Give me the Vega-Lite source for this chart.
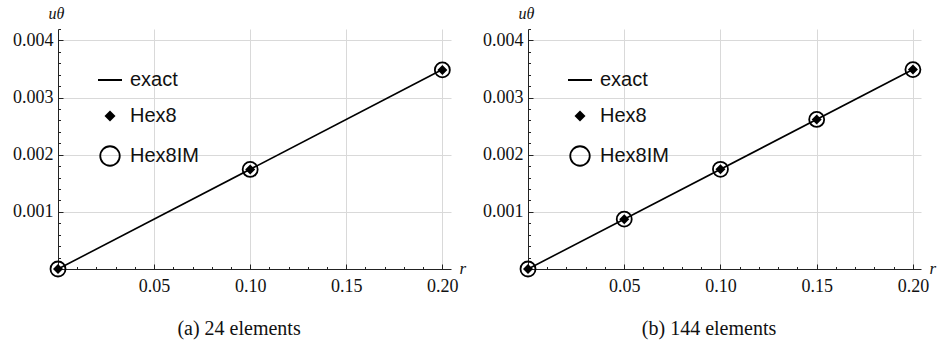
{
  "$schema": "https://vega.github.io/schema/vega-lite/v6.json",
  "background": "white",
  "padding": {"left": 12, "top": 5, "right": 5, "bottom": 5},
  "spacing": 16,
  "datasets": {
    "a": [
      {"r": 0, "u": 0, "series": "exact"},
      {"r": 0.2, "u": 0.00349, "series": "exact"},
      {"r": 0, "u": 0, "series": "Hex8"},
      {"r": 0.1, "u": 0.001742, "series": "Hex8"},
      {"r": 0.2, "u": 0.003484, "series": "Hex8"},
      {"r": 0, "u": 0, "series": "Hex8IM"},
      {"r": 0.1, "u": 0.001742, "series": "Hex8IM"},
      {"r": 0.2, "u": 0.003484, "series": "Hex8IM"}
    ],
    "b": [
      {"r": 0, "u": 0, "series": "exact"},
      {"r": 0.2, "u": 0.00349, "series": "exact"},
      {"r": 0, "u": 0, "series": "Hex8"},
      {"r": 0.05, "u": 0.000872, "series": "Hex8"},
      {"r": 0.1, "u": 0.001745, "series": "Hex8"},
      {"r": 0.15, "u": 0.002617, "series": "Hex8"},
      {"r": 0.2, "u": 0.00349, "series": "Hex8"},
      {"r": 0, "u": 0, "series": "Hex8IM"},
      {"r": 0.05, "u": 0.000872, "series": "Hex8IM"},
      {"r": 0.1, "u": 0.001745, "series": "Hex8IM"},
      {"r": 0.15, "u": 0.002617, "series": "Hex8IM"},
      {"r": 0.2, "u": 0.00349, "series": "Hex8IM"}
    ]
  },
  "config": {
    "view": {"stroke": null},
    "title": {"font": "Liberation Serif", "fontSize": 20, "fontWeight": "normal", "color": "#111", "orient": "bottom", "offset": 24, "frame": "bounds"},
    "legend": {
      "orient": "none",
      "legendX": 39,
      "legendY": 38,
      "labelFont": "Liberation Sans",
      "labelFontSize": 20,
      "labelColor": "#111",
      "labelOffset": 7,
      "rowPadding": 16,
      "padding": 0,
      "title": null
    }
  },
  "hconcat": [
    {
      "title": "(a) 24 elements",
      "width": 393,
      "height": 240,
      "data": {"name": "a"},
      "resolve": {"axis": {"x": "independent", "y": "independent"}},
      "layer": [
        {
          "transform": [{"filter": "datum.series === 'exact'"}],
          "mark": {"type": "line", "color": "black", "strokeWidth": 1.6},
          "encoding": {
            "x": {"field": "r", "type": "quantitative", "scale": {"domain": [0, 0.2045], "nice": false, "zero": false},
              "axis": {"orient": "bottom", "values": [0.05, 0.1, 0.15, 0.2], "format": ".2f", "tickSize": -5, "tickColor": "#222", "domainColor": "#222", "gridColor": "#d9d9d9", "labelPadding": 13, "labelFont": "Liberation Serif", "labelFontSize": 18, "labelColor": "#111",
                "title": "r", "titleFont": "Liberation Serif", "titleFontStyle": "italic", "titleFontWeight": "normal", "titleFontSize": 17, "titleColor": "#111", "titleX": 401, "titleY": 4, "titleAlign": "left", "titleBaseline": "alphabetic", "titleAngle": 0}},
            "y": {"field": "u", "type": "quantitative", "scale": {"domain": [0, 0.0042], "nice": false, "zero": false},
              "axis": {"orient": "left", "values": [0.001, 0.002, 0.003, 0.004], "format": ".3f", "tickSize": -5, "tickColor": "#222", "domainColor": "#222", "gridColor": "#d9d9d9", "labelPadding": 10, "labelFont": "Liberation Serif", "labelFontSize": 18, "labelColor": "#111",
                "title": "uθ", "titleFont": "Liberation Serif", "titleFontStyle": "italic", "titleFontWeight": "normal", "titleFontSize": 16, "titleColor": "#111", "titleAngle": 0, "titleX": -2, "titleY": -11, "titleAlign": "center", "titleBaseline": "alphabetic"}}
          }
        },
        {
          "transform": [{"filter": "datum.series === 'exact'"}],
          "mark": {"type": "point", "opacity": 0},
          "encoding": {
            "x": {"field": "r", "type": "quantitative", "axis": {"orient": "bottom", "values": [0.01,0.02,0.03,0.04,0.06,0.07,0.08,0.09,0.11,0.12,0.13,0.14,0.16,0.17,0.18,0.19], "labels": false, "grid": false, "domain": false, "tickSize": -2.5, "tickColor": "#222", "title": null}},
            "y": {"field": "u", "type": "quantitative", "axis": {"orient": "left", "values": [0.0002,0.0004,0.0006,0.0008,0.0012,0.0014,0.0016,0.0018,0.0022,0.0024,0.0026,0.0028,0.0032,0.0034,0.0036,0.0038,0.0042], "labels": false, "grid": false, "domain": false, "tickSize": -2.5, "tickColor": "#222", "title": null}}
          }
        },
        {
          "transform": [{"filter": "datum.series === 'Hex8IM'"}],
          "mark": {"type": "point", "shape": "circle", "filled": false, "color": "black", "strokeWidth": 1.8, "size": 225, "opacity": 1},
          "encoding": {
            "x": {"field": "r", "type": "quantitative", "axis": null},
            "y": {"field": "u", "type": "quantitative", "axis": null}
          }
        },
        {
          "transform": [{"filter": "datum.series === 'Hex8'"}],
          "mark": {"type": "point", "shape": "diamond", "filled": true, "color": "black", "size": 100, "opacity": 1},
          "encoding": {
            "x": {"field": "r", "type": "quantitative", "axis": null},
            "y": {"field": "u", "type": "quantitative", "axis": null}
          }
        },
        {
          "transform": [{"filter": "false"}],
          "mark": {"type": "point", "color": "black", "stroke": "black", "opacity": 1},
          "encoding": {
            "x": {"field": "r", "type": "quantitative", "axis": null},
            "y": {"field": "u", "type": "quantitative", "axis": null},
            "shape": {"field": "series", "type": "nominal", "scale": {"domain": ["exact", "Hex8", "Hex8IM"], "range": ["stroke", "diamond", "circle"]}},
            "size": {"field": "series", "type": "nominal", "scale": {"type": "ordinal", "domain": ["exact", "Hex8", "Hex8IM"], "range": [576, 121, 380]}},
            "fill": {"field": "series", "type": "nominal", "scale": {"domain": ["exact", "Hex8", "Hex8IM"], "range": ["transparent", "black", "transparent"]}},
            "strokeWidth": {"field": "series", "type": "nominal", "scale": {"type": "ordinal", "domain": ["exact", "Hex8", "Hex8IM"], "range": [2, 0, 1.8]}}
          }
        }
      ]
    },
    {
      "title": "(b) 144 elements",
      "width": 393,
      "height": 240,
      "data": {"name": "b"},
      "resolve": {"axis": {"x": "independent", "y": "independent"}},
      "layer": [
        {
          "transform": [{"filter": "datum.series === 'exact'"}],
          "mark": {"type": "line", "color": "black", "strokeWidth": 1.6},
          "encoding": {
            "x": {"field": "r", "type": "quantitative", "scale": {"domain": [0, 0.2042], "nice": false, "zero": false},
              "axis": {"orient": "bottom", "values": [0.05, 0.1, 0.15, 0.2], "format": ".2f", "tickSize": -5, "tickColor": "#222", "domainColor": "#222", "gridColor": "#d9d9d9", "labelPadding": 13, "labelFont": "Liberation Serif", "labelFontSize": 18, "labelColor": "#111",
                "title": "r", "titleFont": "Liberation Serif", "titleFontStyle": "italic", "titleFontWeight": "normal", "titleFontSize": 17, "titleColor": "#111", "titleX": 401, "titleY": 4, "titleAlign": "left", "titleBaseline": "alphabetic", "titleAngle": 0}},
            "y": {"field": "u", "type": "quantitative", "scale": {"domain": [0, 0.0042], "nice": false, "zero": false},
              "axis": {"orient": "left", "values": [0.001, 0.002, 0.003, 0.004], "format": ".3f", "tickSize": -5, "tickColor": "#222", "domainColor": "#222", "gridColor": "#d9d9d9", "labelPadding": 10, "labelFont": "Liberation Serif", "labelFontSize": 18, "labelColor": "#111",
                "title": "uθ", "titleFont": "Liberation Serif", "titleFontStyle": "italic", "titleFontWeight": "normal", "titleFontSize": 16, "titleColor": "#111", "titleAngle": 0, "titleX": -2, "titleY": -11, "titleAlign": "center", "titleBaseline": "alphabetic"}}
          }
        },
        {
          "transform": [{"filter": "datum.series === 'exact'"}],
          "mark": {"type": "point", "opacity": 0},
          "encoding": {
            "x": {"field": "r", "type": "quantitative", "axis": {"orient": "bottom", "values": [0.01,0.02,0.03,0.04,0.06,0.07,0.08,0.09,0.11,0.12,0.13,0.14,0.16,0.17,0.18,0.19], "labels": false, "grid": false, "domain": false, "tickSize": -2.5, "tickColor": "#222", "title": null}},
            "y": {"field": "u", "type": "quantitative", "axis": {"orient": "left", "values": [0.0002,0.0004,0.0006,0.0008,0.0012,0.0014,0.0016,0.0018,0.0022,0.0024,0.0026,0.0028,0.0032,0.0034,0.0036,0.0038,0.0042], "labels": false, "grid": false, "domain": false, "tickSize": -2.5, "tickColor": "#222", "title": null}}
          }
        },
        {
          "transform": [{"filter": "datum.series === 'Hex8IM'"}],
          "mark": {"type": "point", "shape": "circle", "filled": false, "color": "black", "strokeWidth": 1.8, "size": 225, "opacity": 1},
          "encoding": {
            "x": {"field": "r", "type": "quantitative", "axis": null},
            "y": {"field": "u", "type": "quantitative", "axis": null}
          }
        },
        {
          "transform": [{"filter": "datum.series === 'Hex8'"}],
          "mark": {"type": "point", "shape": "diamond", "filled": true, "color": "black", "size": 100, "opacity": 1},
          "encoding": {
            "x": {"field": "r", "type": "quantitative", "axis": null},
            "y": {"field": "u", "type": "quantitative", "axis": null}
          }
        },
        {
          "transform": [{"filter": "false"}],
          "mark": {"type": "point", "color": "black", "stroke": "black", "opacity": 1},
          "encoding": {
            "x": {"field": "r", "type": "quantitative", "axis": null},
            "y": {"field": "u", "type": "quantitative", "axis": null},
            "shape": {"field": "series", "type": "nominal", "scale": {"domain": ["exact", "Hex8", "Hex8IM"], "range": ["stroke", "diamond", "circle"]}},
            "size": {"field": "series", "type": "nominal", "scale": {"type": "ordinal", "domain": ["exact", "Hex8", "Hex8IM"], "range": [576, 121, 380]}},
            "fill": {"field": "series", "type": "nominal", "scale": {"domain": ["exact", "Hex8", "Hex8IM"], "range": ["transparent", "black", "transparent"]}},
            "strokeWidth": {"field": "series", "type": "nominal", "scale": {"type": "ordinal", "domain": ["exact", "Hex8", "Hex8IM"], "range": [2, 0, 1.8]}}
          }
        }
      ]
    }
  ],
  "resolve": {"legend": {"shape": "independent", "size": "independent", "fill": "independent", "strokeWidth": "independent"}, "scale": {"shape": "independent", "size": "independent", "fill": "independent", "strokeWidth": "independent"}}
}
